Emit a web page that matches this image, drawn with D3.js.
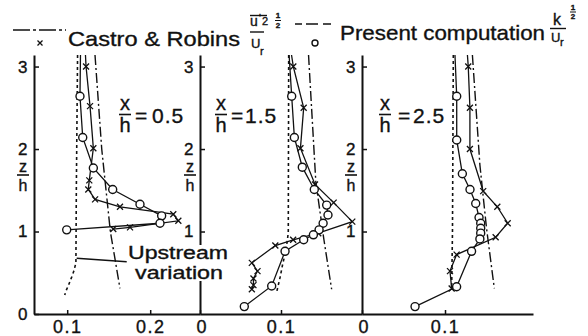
<!DOCTYPE html>
<html><head><meta charset="utf-8">
<script src="https://cdn.jsdelivr.net/npm/d3@7"></script>
<style>
body{margin:0;background:#fff}
svg{display:block}
text{font-family:"Liberation Sans",Arial,sans-serif;fill:#111;stroke:#111;stroke-width:0.35px}
</style>
</head><body>
<svg id="c" width="588" height="336"></svg>
<script>
// ---------------- DATA ----------------
const zTicks1 = [0, 1, 2, 3];
const zTicks = [1, 2, 3];
const xTicks1 = [0.1, 0.2];
const xTicks2 = [0, 0.1];
const xTicks3 = [0, 0.1];
const panelLabels = ["0.5", "1.5", "2.5"];

// Panel x/h = 0.5
const p1DotZ = [3.14, 1.5, 0.62, 0.52, 0.45, 0.36, 0.29, 0.23];
const p1DotV = [0.1125, 0.111, 0.1105, 0.108, 0.1055, 0.102, 0.099, 0.097];
const p1DashDotZ = [3.14, 2.0, 1.0, 0.31];
const p1DashDotV = [0.1335, 0.1416, 0.152, 0.1636];
const p1CircZ = [3.14, 2.64, 2.14, 1.77, 1.51, 1.33, 1.19, 1.10, 1.02];
const p1CircV = [0.116, 0.1154, 0.1187, 0.1315, 0.1548, 0.1877, 0.2138, 0.2118, 0.0994];
const p1CrossZ = [3.14, 3.0, 2.52, 2.01, 1.62, 1.51, 1.39, 1.30, 1.21, 1.13, 1.05, 1.03];
const p1CrossV = [0.122, 0.1227, 0.1275, 0.1315, 0.1266, 0.1254, 0.1336, 0.1636, 0.2278, 0.2339, 0.1757, 0.1555];

// Panel x/h = 1.5
const p2DotZ = [3.14, 1.0, 0.9, 0.75, 0.6, 0.45, 0.28];
const p2DotV = [0.1095, 0.109, 0.108, 0.1055, 0.102, 0.099, 0.095];
const p2DashDotZ = [3.14, 1.6, 0.9, 0.3];
const p2DashDotV = [0.134, 0.143, 0.153, 0.1625];
const p2CircZ = [3.14, 2.64, 2.14, 1.78, 1.51, 1.32, 1.20, 1.10, 1.02, 0.96, 0.90, 0.76, 0.34, 0.09];
const p2CircV = [0.110, 0.1132, 0.1165, 0.1263, 0.1411, 0.1564, 0.158, 0.152, 0.147, 0.140, 0.128, 0.105, 0.0885, 0.0547];
const p2CrossZ = [3.14, 3.0, 2.5, 2.01, 1.57, 1.35, 1.12, 0.98, 0.90, 0.83, 0.62, 0.52, 0.43, 0.35, 0.30];
const p2CrossV = [0.113, 0.1152, 0.128, 0.124, 0.142, 0.165, 0.188, 0.146, 0.115, 0.093, 0.064, 0.071, 0.066, 0.066, 0.064];

// Panel x/h = 2.5
const p3DotZ = [3.14, 1.0, 0.3];
const p3DotV = [0.110, 0.109, 0.108];
const p3DashDotZ = [3.14, 1.81, 1.04, 0.31];
const p3DashDotV = [0.133, 0.142, 0.150, 0.1594];
const p3CircZ = [3.14, 2.64, 2.11, 1.70, 1.51, 1.34, 1.17, 1.10, 1.04, 0.98, 0.91, 0.76, 0.33, 0.09];
const p3CircV = [0.112, 0.1141, 0.1141, 0.1209, 0.1301, 0.137, 0.141, 0.143, 0.143, 0.143, 0.142, 0.132, 0.114, 0.0639];
const p3CrossZ = [3.14, 3.0, 2.5, 2.0, 1.49, 1.30, 1.10, 0.93, 0.72, 0.52, 0.31];
const p3CrossV = [0.127, 0.128, 0.130, 0.130, 0.146, 0.163, 0.1755, 0.161, 0.114, 0.106, 0.108];

// Upstream-variation leader (panel 1, data units)
const leaderV = [0.1114, 0.1717];
const leaderZ = [0.675, 0.634];

// ---------------- DRAW ----------------
const svg = d3.select("#c");
svg.append("rect").attr("width", 588).attr("height", 336).attr("fill", "#fff");
const INK = "#111";
const y = d3.scaleLinear().domain([0, 3.14]).range([314, 55]);
const zip = (Z, V) => Z.map((z, i) => ({z, v: V[i]}));

const panels = [
  {x: d3.scaleLinear().domain([0.06, 0.26]).range([34, 200]), xt: xTicks1, zt: zTicks1,
   dot: zip(p1DotZ, p1DotV), dd: zip(p1DashDotZ, p1DashDotV), circ: zip(p1CircZ, p1CircV), cross: zip(p1CrossZ, p1CrossV),
   lab: panelLabels[0], lx: 125, leq: 135, ln: 152, zl: 23},
  {x: d3.scaleLinear().domain([0, 0.2]).range([200, 362]), xt: xTicks2, zt: zTicks,
   dot: zip(p2DotZ, p2DotV), dd: zip(p2DashDotZ, p2DashDotV), circ: zip(p2CircZ, p2CircV), cross: zip(p2CrossZ, p2CrossV),
   lab: panelLabels[1], lx: 221, leq: 231, ln: 245, zl: 190},
  {x: d3.scaleLinear().domain([0, 0.206]).range([362, 533]), xt: xTicks3, zt: zTicks,
   dot: zip(p3DotZ, p3DotV), dd: zip(p3DashDotZ, p3DashDotV), circ: zip(p3CircZ, p3CircV), cross: zip(p3CrossZ, p3CrossV),
   lab: panelLabels[2], lx: 385, leq: 398, ln: 413, zl: 351}
];

const fmt = d => d === 0 ? "0" : d3.format(".1f")(d);
const crossPath = "M-3,-3L3,3M-3,3L3,-3";

panels.forEach((p, i) => {
  const g = svg.append("g");
  const xa = g.append("g").attr("transform", "translate(0,314)")
    .call(d3.axisBottom(p.x).tickValues(p.xt).tickFormat(fmt).tickSize(-4).tickSizeOuter(0).tickPadding(6));
  const ya = g.append("g").attr("transform", `translate(${p.x.range()[0]},0)`)
    .call(d3.axisLeft(y).tickValues(p.zt).tickFormat(d3.format("d")).tickSize(-5).tickSizeOuter(0).tickPadding(5));
  [xa, ya].forEach(a => {
    a.attr("font-family", null).attr("font-size", null);
    a.select(".domain").attr("stroke", INK).attr("stroke-width", 2);
    a.selectAll(".tick line").attr("stroke", INK).attr("stroke-width", 1.5);
    a.selectAll(".tick text").attr("fill", INK).style("letter-spacing", "1.5px");
  });
  xa.selectAll(".tick text").style("font-size", "18px");
  ya.selectAll(".tick text").style("font-size", "17px");
  if (i > 0) xa.selectAll(".tick text").filter(d => d === 0).attr("dx", "0.1em");

  const line = d3.line().x(d => p.x(d.v)).y(d => y(d.z));
  g.append("path").datum(p.dot).attr("d", line).attr("fill", "none").attr("stroke", INK)
    .attr("stroke-width", 1.6).attr("stroke-dasharray", "3,3");
  g.append("path").datum(p.dd).attr("d", line).attr("fill", "none").attr("stroke", INK)
    .attr("stroke-width", 1.4).attr("stroke-dasharray", "10,3,2,3");
  g.append("path").datum(p.cross).attr("d", line).attr("fill", "none").attr("stroke", INK).attr("stroke-width", 1.3);
  g.append("path").datum(p.circ).attr("d", line).attr("fill", "none").attr("stroke", INK).attr("stroke-width", 1.3);
  g.selectAll(".cx").data(p.cross.filter(d => d.z <= 3.05)).join("path")
    .attr("transform", d => `translate(${p.x(d.v)},${y(d.z)})`).attr("d", crossPath)
    .attr("stroke", INK).attr("stroke-width", 1.3).attr("fill", "none");
  g.selectAll(".ci").data(p.circ.filter(d => d.z <= 3.05)).join("circle")
    .attr("cx", d => p.x(d.v)).attr("cy", d => y(d.z)).attr("r", 4)
    .attr("fill", "#fff").attr("stroke", INK).attr("stroke-width", 1.4);

  // x/h label
  g.append("text").attr("x", p.lx).attr("y", 110).attr("text-anchor", "middle").style("font-size", "20px").text("x");
  g.append("line").attr("x1", p.lx - 6).attr("x2", p.lx + 6).attr("y1", 114.5).attr("y2", 114.5).attr("stroke", INK).attr("stroke-width", 1.6);
  g.append("text").attr("x", p.lx).attr("y", 132).attr("text-anchor", "middle").style("font-size", "20px").text("h");
  g.append("text").attr("x", p.leq).attr("y", 123).style("font-size", "21px").text("=");
  g.append("text").attr("x", p.ln).attr("y", 123).style("font-size", "21px").style("letter-spacing", "1px").text(p.lab);

  // z/h label
  g.append("text").attr("x", p.zl).attr("y", 172).attr("text-anchor", "middle").style("font-size", "16px").text("z");
  g.append("line").attr("x1", p.zl - 6).attr("x2", p.zl + 6).attr("y1", 175).attr("y2", 175).attr("stroke", INK).attr("stroke-width", 1.6);
  g.append("text").attr("x", p.zl).attr("y", 190.5).attr("text-anchor", "middle").style("font-size", "16px").text("h");
});

// Upstream variation annotation
const p1 = panels[0];
svg.append("rect").attr("x", 127).attr("y", 245).attr("width", 103).attr("height", 36).attr("fill", "#fff");
svg.append("line").attr("x1", p1.x(leaderV[0])).attr("y1", y(leaderZ[0]))
  .attr("x2", p1.x(leaderV[1])).attr("y2", y(leaderZ[1])).attr("stroke", INK).attr("stroke-width", 1.4);
svg.append("text").attr("x", 128).attr("y", 259).style("font-size", "17.5px")
  .attr("textLength", 100).attr("lengthAdjust", "spacingAndGlyphs").text("Upstream");
svg.append("text").attr("x", 135).attr("y", 279).style("font-size", "17.5px")
  .attr("textLength", 88).attr("lengthAdjust", "spacingAndGlyphs").text("variation");

// ---------------- LEGEND ----------------
const L = svg.append("g");
L.append("line").attr("x1", 13).attr("x2", 66).attr("y1", 30).attr("y2", 30).attr("stroke", INK)
  .attr("stroke-width", 1.6).attr("stroke-dasharray", "17,3,3,3");
L.append("path").attr("transform", "translate(40,43)").attr("d", "M-2.5,-2.5L2.5,2.5M-2.5,2.5L2.5,-2.5")
  .attr("stroke", INK).attr("stroke-width", 1.3);
L.append("text").attr("x", 68).attr("y", 46).style("font-size", "21px")
  .attr("textLength", 172).attr("lengthAdjust", "spacingAndGlyphs").text("Castro & Robins");
L.append("line").attr("x1", 250).attr("x2", 267).attr("y1", 15.5).attr("y2", 15.5).attr("stroke", INK).attr("stroke-width", 1.4);
L.append("text").attr("x", 250).attr("y", 26).style("font-size", "14px").text("u");
L.append("text").attr("x", 259).attr("y", 22).style("font-size", "10px").text("'");
L.append("text").attr("x", 262).attr("y", 25).style("font-size", "11px").text("2");
L.append("line").attr("x1", 250).attr("x2", 264).attr("y1", 32).attr("y2", 32).attr("stroke", INK).attr("stroke-width", 1.4);
L.append("text").attr("x", 251).attr("y", 48).style("font-size", "13px").text("U");
L.append("text").attr("x", 260).attr("y", 55).style("font-size", "11px").text("r");
L.append("text").attr("x", 278).attr("y", 18).attr("text-anchor", "middle").style("font-size", "8px").style("font-weight", "bold").text("1");
L.append("line").attr("x1", 275).attr("x2", 281).attr("y1", 20.5).attr("y2", 20.5).attr("stroke", INK).attr("stroke-width", 1);
L.append("text").attr("x", 278).attr("y", 28).attr("text-anchor", "middle").style("font-size", "8px").style("font-weight", "bold").text("2");

L.append("line").attr("x1", 295).attr("x2", 331).attr("y1", 24).attr("y2", 24).attr("stroke", INK)
  .attr("stroke-width", 1.6).attr("stroke-dasharray", "7,4,12,5,8");
L.append("circle").attr("cx", 315).attr("cy", 43).attr("r", 3).attr("fill", "#fff").attr("stroke", INK).attr("stroke-width", 1.4);
L.append("text").attr("x", 340).attr("y", 40).style("font-size", "21px")
  .attr("textLength", 205).attr("lengthAdjust", "spacingAndGlyphs").text("Present computation");
L.append("text").attr("x", 553).attr("y", 25).style("font-size", "16px").text("k");
L.append("line").attr("x1", 550).attr("x2", 566).attr("y1", 28.5).attr("y2", 28.5).attr("stroke", INK).attr("stroke-width", 1.4);
L.append("text").attr("x", 551).attr("y", 42).style("font-size", "13px").text("U");
L.append("text").attr("x", 560).attr("y", 46).style("font-size", "11px").text("r");
L.append("text").attr("x", 573).attr("y", 10).attr("text-anchor", "middle").style("font-size", "8px").style("font-weight", "bold").text("1");
L.append("line").attr("x1", 570).attr("x2", 576).attr("y1", 12).attr("y2", 12).attr("stroke", INK).attr("stroke-width", 1);
L.append("text").attr("x", 573).attr("y", 19).attr("text-anchor", "middle").style("font-size", "8px").style("font-weight", "bold").text("2");
</script>
</body></html>
